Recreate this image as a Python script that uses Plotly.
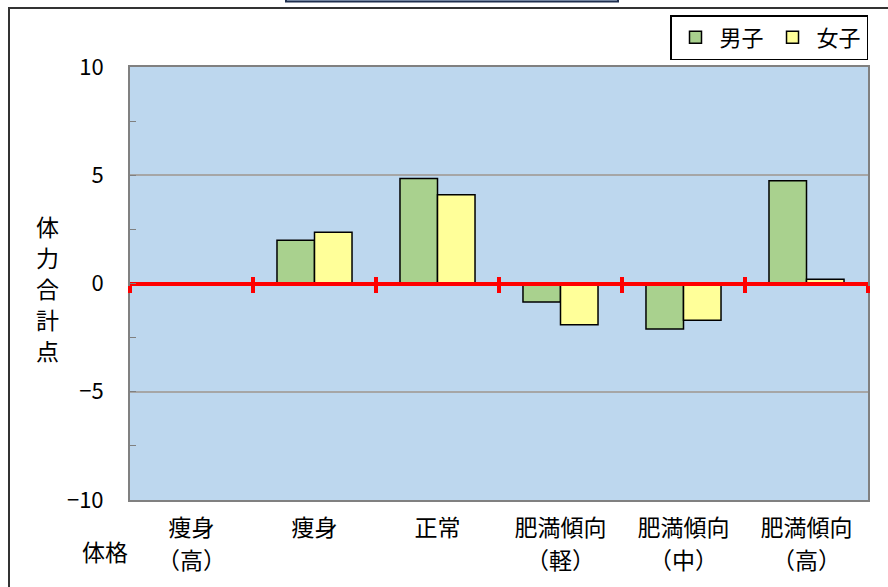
import plotly.graph_objects as go

categories_line1 = ["痩身", "痩身", "正常", "肥満傾向", "肥満傾向", "肥満傾向"]
categories_line2 = ["（高）", "", "", "（軽）", "（中）", "（高）"]
boys = [None, 2.0, 4.85, -0.85, -2.1, 4.75]
girls = [None, 2.37, 4.1, -1.9, -1.7, 0.2]
series_names = ["男子", "女子"]
y_ticks = [-10, -5, 0, 5, 10]
y_title = "体力合計点"
x_title = "体格"

FONT = "Noto Sans CJK JP"
W, H = 888, 587
L, R, T, B = 130, 20, 67, 87
PW, PH = W - L - R, H - T - B

def px_x(px):
    return (px - L) / PW

def px_y(py):
    return (H - B - py) / PH

idx = list(range(len(categories_line1)))
bounds = [i - 0.5 for i in range(len(categories_line1) + 1)]

fig = go.Figure()
fig.add_trace(go.Bar(x=idx, y=boys, name=series_names[0], marker=dict(color="#A9D18E", line=dict(color="black", width=1.5))))
fig.add_trace(go.Bar(x=idx, y=girls, name=series_names[1], marker=dict(color="#FFFF99", line=dict(color="black", width=1.5))))
# helper traces so the overlay axes render
for ax in ["x2", "x3", "x4"]:
    fig.add_trace(go.Scatter(x=[], y=[], xaxis=ax, showlegend=False, hoverinfo="skip"))

xr = [-0.5, len(categories_line1) - 0.5]
fig.update_layout(
    width=W, height=H,
    margin=dict(l=L, r=R, t=T, b=B),
    paper_bgcolor="white",
    plot_bgcolor="#BDD7EE",
    font=dict(family=FONT, size=22, color="black"),
    barmode="group",
    bargap=0.39,
    bargroupgap=0,
    showlegend=True,
    legend=dict(orientation="h", x=1, xanchor="right", y=px_y(15), yanchor="top",
                bgcolor="white", bordercolor="black", borderwidth=1.5,
                font=dict(size=22), itemwidth=38, traceorder="normal"),
    xaxis=dict(range=xr, anchor="free", position=0.5, showline=True, linecolor="red", linewidth=4,
               tickmode="array", tickvals=bounds, ticks="outside", ticklen=7, tickwidth=4, tickcolor="red",
               showticklabels=False, showgrid=False, zeroline=False),
    xaxis2=dict(range=xr, overlaying="x", anchor="y", side="bottom", showline=True, mirror=True,
                linecolor="#808080", linewidth=2, tickmode="array", tickvals=idx, ticktext=categories_line1,
                ticks="", showgrid=False, zeroline=False, tickfont=dict(size=23), ticklabelstandoff=6),
    xaxis4=dict(range=xr, overlaying="x", anchor="y", side="bottom", showline=False,
                tickmode="array", tickvals=idx, ticktext=categories_line2,
                ticks="", showgrid=False, zeroline=False, tickfont=dict(size=23), ticklabelstandoff=45),
    xaxis3=dict(range=xr, overlaying="x", anchor="free", position=0.5, showline=False,
                tickmode="array", tickvals=bounds, ticks="inside", ticklen=7, tickwidth=4, tickcolor="red",
                showticklabels=False, showgrid=False, zeroline=False),
    yaxis=dict(range=[-10, 10], tickmode="array", tickvals=y_ticks, showline=True, mirror=True,
               linecolor="#808080", linewidth=2, ticks="inside", ticklen=6, tickcolor="#808080",
               showgrid=True, gridcolor="#A6A6A6", gridwidth=1.5, zeroline=False,
               minor=dict(dtick=2.5, ticks="inside", ticklen=6, tickcolor="#808080", showgrid=False),
               tickfont=dict(size=22), ticklabelstandoff=20),
)

# y-axis title, stacked vertically
for i, ch in enumerate(y_title):
    fig.add_annotation(text=ch, xref="paper", yref="paper", x=px_x(47), y=px_y(226 + 31 * i),
                       showarrow=False, font=dict(size=23), xanchor="center", yanchor="middle")
fig.add_annotation(text=x_title, xref="paper", yref="paper", x=px_x(105), y=px_y(551),
                   showarrow=False, font=dict(size=23), xanchor="center", yanchor="middle")

# outer chart frame and clipped title box
fig.add_shape(type="rect", xref="paper", yref="paper", x0=px_x(9), x1=px_x(900), y0=px_y(600), y1=px_y(8),
              line=dict(color="#333333", width=2), fillcolor="rgba(0,0,0,0)", layer="above")
fig.add_shape(type="rect", xref="paper", yref="paper", x0=px_x(286), x1=px_x(618), y0=px_y(1.5), y1=px_y(-10),
              line=dict(color="#1F2F4F", width=2), fillcolor="#C5D9F1", layer="above")

fig.write_html("out.html", config={"displayModeBar": False},
               post_script="document.body.style.margin='0';document.body.style.overflow='hidden';")
